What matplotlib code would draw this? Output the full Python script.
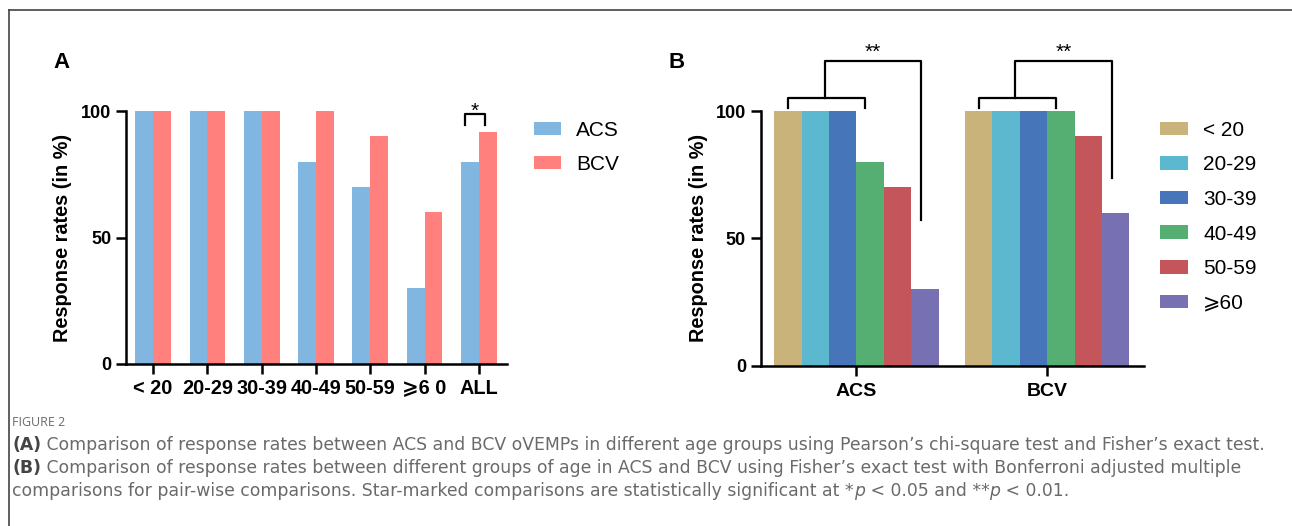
import numpy as np
import matplotlib.pyplot as plt
from matplotlib.lines import Line2D

# panel A data
age_groups = ["< 20", "20-29", "30-39", "40-49", "50-59", "\u2a7e6 0", "ALL"]
acs_rates = [100, 100, 100, 80, 70, 30, 80]
bcv_rates = [100, 100, 100, 100, 90, 60, 91.7]

# panel B data
methods = ["ACS", "BCV"]
age_labels_b = ["< 20", "20-29", "30-39", "40-49", "50-59", "\u2a7e60"]
acs_by_age = [100, 100, 100, 80, 70, 30]
bcv_by_age = [100, 100, 100, 100, 90, 60]

col_acs = "#80b6df"
col_bcv = "#ff807c"
age_colors = ["#c9b37b", "#5bb8ce", "#4676b9", "#55ae72", "#c4555a", "#7771b4"]

plt.rcParams["font.family"] = ["Liberation Sans", "DejaVu Sans"]
W, H = 1292, 526
fig = plt.figure(figsize=(W / 100, H / 100), dpi=100)


def px_axes(left, right, top, bottom):
    return fig.add_axes([left / W, 1 - bottom / H, (right - left) / W, (bottom - top) / H])


def style_axes(ax, xsize):
    for s in ["top", "right"]:
        ax.spines[s].set_visible(False)
    for s in ["left", "bottom"]:
        ax.spines[s].set_linewidth(1.8)
    ax.set_ylim(0, 100)
    ax.set_yticks([0, 50, 100])
    ax.tick_params(axis="both", width=1.8, length=7.5, pad=3)
    ax.tick_params(axis="y", labelsize=13)
    ax.tick_params(axis="x", labelsize=xsize)
    for lab in ax.get_xticklabels() + ax.get_yticklabels():
        lab.set_fontweight("bold")
    ax.set_ylabel("Response rates (in %)", fontsize=14.3, fontweight="bold")


leg_kw = dict(loc="upper left", frameon=False, fontsize=15, handlelength=1.3,
              handleheight=0.62, handletextpad=0.75, borderpad=0, borderaxespad=0)

# ---------- panel A ----------
axA = px_axes(126, 507, 111, 364)
x = np.arange(len(age_groups))
w = 0.33
axA.bar(x - w / 2, acs_rates, w, color=col_acs, label="ACS")
axA.bar(x + w / 2, bcv_rates, w, color=col_bcv, label="BCV")
axA.set_xlim(-0.5, 6.52)
axA.set_xticks(x)
axA.set_xticklabels(age_groups)
style_axes(axA, 14.3)
axA.yaxis.set_label_coords(-0.142, 0.5)
axA.legend(bbox_to_anchor=(1.07, 0.962), labelspacing=0.72, **leg_kw)

# significance bracket on ALL
xa = x[-1]
bl, br = xa - 0.26, xa + 0.11
axA.plot([bl, bl, br, br], [94.5, 98.8, 98.8, 94.5], color="black", lw=1.6, clip_on=False)
axA.text((bl + br) / 2, 97.6, "*", ha="center", va="baseline", fontsize=15)

# ---------- panel B ----------
axB = px_axes(760.6, 1144, 111, 365.7)
xb = np.arange(len(methods))
wb = 0.1435
for i, lab in enumerate(age_labels_b):
    axB.bar(xb + (i - 2.5) * wb, [acs_by_age[i], bcv_by_age[i]], wb,
            color=age_colors[i], label=lab)
axB.set_xlim(-0.502, 1.507)
axB.set_xticks(xb)
axB.set_xticklabels(methods)
style_axes(axB, 14)
axB.tick_params(axis="x", pad=5)
axB.yaxis.set_label_coords(-0.137, 0.5)
axB.legend(bbox_to_anchor=(1.043, 0.962), labelspacing=0.75, **leg_kw)

# brackets: young groups vs >=60
leg_ends = [57.2, 73.6]
for g, ystop in zip(xb, leg_ends):
    left = g + (0 - 2.5) * wb
    right = g + 0.045
    mid = g - 0.167
    far = g + 2.35 * wb
    kw = dict(color="black", lw=1.6, clip_on=False)
    axB.plot([left, left, right, right], [101.1, 105.2, 105.2, 101.1], **kw)
    axB.plot([mid, mid, far, far], [105.2, 119.6, 119.6, ystop], **kw)
    axB.text((mid + far) / 2, 120.9, "**", ha="center", va="baseline", fontsize=15)

# panel letters
fig.text(62 / W, 1 - 63 / H, "A", fontsize=16, fontweight="bold", ha="center", va="center")
fig.text(676.6 / W, 1 - 63 / H, "B", fontsize=16, fontweight="bold", ha="center", va="center")

# frame lines (top + left)
fig.add_artist(Line2D([8.5 / W, 1], [1 - 10 / H, 1 - 10 / H], color="#444444", lw=1.2))
fig.add_artist(Line2D([8.5 / W, 8.5 / W], [0, 1 - 10 / H], color="#444444", lw=1.2))

# caption
cap_font = "DejaVu Sans"
gray = "#6a6a6a"
fig.text(12 / W, 1 - 426.5 / H, "FIGURE 2", fontsize=9, color="#6a6a6a",
         family="Open Sans", va="baseline")


def caption_line(ypx, parts):
    t = None
    for s, style in parts:
        kw = dict(fontsize=12.4, family=cap_font, color=gray)
        if style == "b":
            kw.update(fontweight="bold", color="#444444")
        elif style == "i":
            kw.update(fontstyle="italic")
        if t is None:
            t = fig.text(12 / W, 1 - ypx / H, s, va="baseline", **kw)
        else:
            t = axA.annotate(s, xy=(1, 0), xycoords=t, va="bottom", **kw)


caption_line(450, [("(A)", "b"),
                   (" Comparison of response rates between ACS and BCV oVEMPs in different age groups "
                    "using Pearson\u2019s chi-square test and Fisher\u2019s exact test.", "n")])
caption_line(473, [("(B)", "b"),
                   (" Comparison of response rates between different groups of age in ACS and BCV "
                    "using Fisher\u2019s exact test with Bonferroni adjusted multiple", "n")])
caption_line(496, [("comparisons for pair-wise comparisons. Star-marked comparisons are statistically "
                    "significant at *", "n"), ("p", "i"), (" < 0.05 and **", "n"), ("p", "i"),
                   (" < 0.01.", "n")])

fig.savefig("out.png", dpi=100)
